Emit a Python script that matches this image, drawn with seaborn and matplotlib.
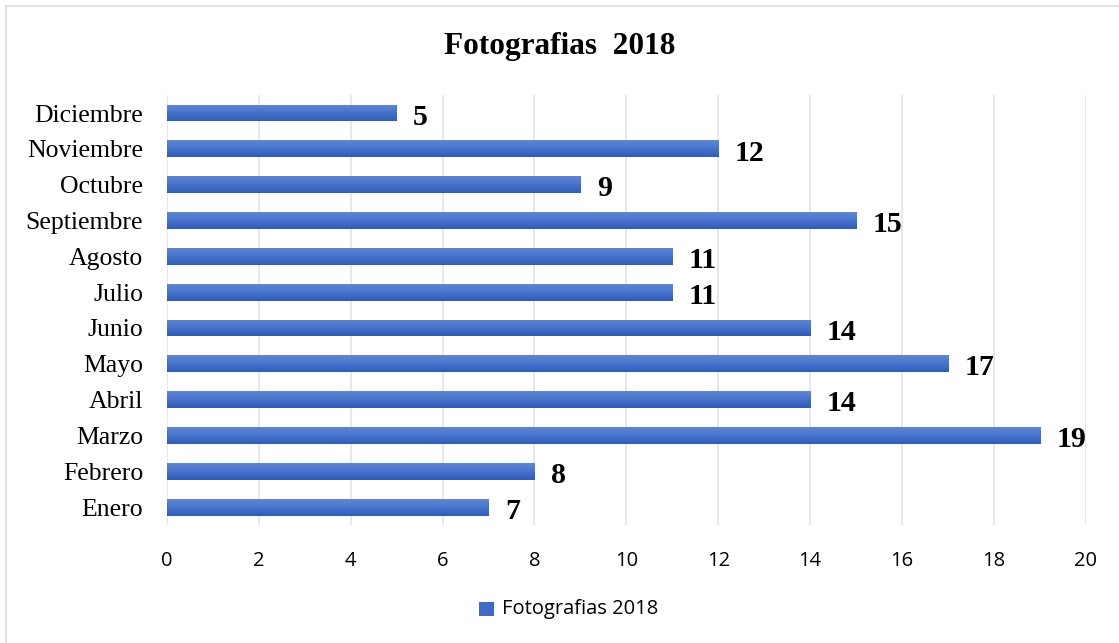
import numpy as np
import pandas as pd
import matplotlib.pyplot as plt
import seaborn as sns
from matplotlib.patches import Rectangle
from matplotlib.colors import LinearSegmentedColormap

# datos
meses = ['Enero', 'Febrero', 'Marzo', 'Abril', 'Mayo', 'Junio', 'Julio',
         'Agosto', 'Septiembre', 'Octubre', 'Noviembre', 'Diciembre']
fotos = [7, 8, 19, 14, 17, 14, 11, 11, 15, 9, 12, 5]
serie = 'Fotografias 2018'

df = pd.DataFrame({'mes': meses, 'fotos': fotos})
orden = meses[::-1]  # Diciembre arriba

sns.set_style('white')
plt.rcParams['font.family'] = ['Liberation Serif', 'DejaVu Serif']
plt.rcParams['text.color'] = 'black'
plt.rcParams['xtick.color'] = 'black'
plt.rcParams['ytick.color'] = 'black'

fig = plt.figure(figsize=(11.19, 6.43), dpi=100)
ax = fig.add_axes([0.149, 0.1835, 0.8215, 0.6685])

sns.barplot(data=df, x='fotos', y='mes', order=orden, orient='h',
            color='#4472C4', width=0.47, ax=ax, zorder=3)

# degradado en las barras
cmap = LinearSegmentedColormap.from_list('azul', ['#6088d6', '#2e5dbd'])
grad = np.linspace(0, 1, 64).reshape(-1, 1)
for p in ax.patches:
    x0, y0 = p.get_x(), p.get_y()
    w, h = p.get_width(), p.get_height()
    p.set_alpha(0)
    im = ax.imshow(grad, cmap=cmap, aspect='auto', zorder=4,
                   extent=(x0, x0 + w, y0 + h, y0), origin='upper')
    im.set_clip_path(Rectangle((x0, y0), w, h, transform=ax.transData))

ax.set_xlim(0, 20)
ax.set_ylim(11.5, -0.5)
ax.set_xticks(range(0, 21, 2))
ax.grid(axis='x', color='#e1e4ea', linewidth=1.2, zorder=0)
ax.set_axisbelow(True)
for s in ax.spines.values():
    s.set_visible(False)
ax.set_xlabel('')
ax.set_ylabel('')
ax.tick_params(axis='y', length=0, pad=17, labelsize=18.5)
ax.tick_params(axis='x', length=0, pad=19)
for t in ax.get_xticklabels():
    t.set_fontfamily('Open Sans')
    t.set_fontsize(14.5)

# etiquetas de valor
for i, m in enumerate(orden):
    v = fotos[meses.index(m)]
    ax.annotate(str(v), (v, i), xytext=(12, -3), textcoords='offset points',
                ha='left', va='center', fontsize=21.5, fontweight='bold')

fig.text(0.5, 0.928, 'Fotografias  2018', ha='center', va='center',
         fontsize=22.5, fontweight='bold')

# leyenda
fig.patches.append(Rectangle((479 / 1119, 1 - 616 / 643), 15 / 1119, 14 / 643,
                             transform=fig.transFigure, facecolor='#3f6bc8',
                             edgecolor='none'))
fig.text(502 / 1119, 1 - 609 / 643, serie, ha='left', va='center',
         fontsize=14.5, fontfamily='Open Sans')

# borde exterior
fig.patches.append(Rectangle((6 / 1119, -0.1), 1.2, 1 - 6 / 643 + 0.1,
                             transform=fig.transFigure, fill=False,
                             edgecolor='#d9dce2', linewidth=1.2))

fig.savefig('out.png', dpi=100)
